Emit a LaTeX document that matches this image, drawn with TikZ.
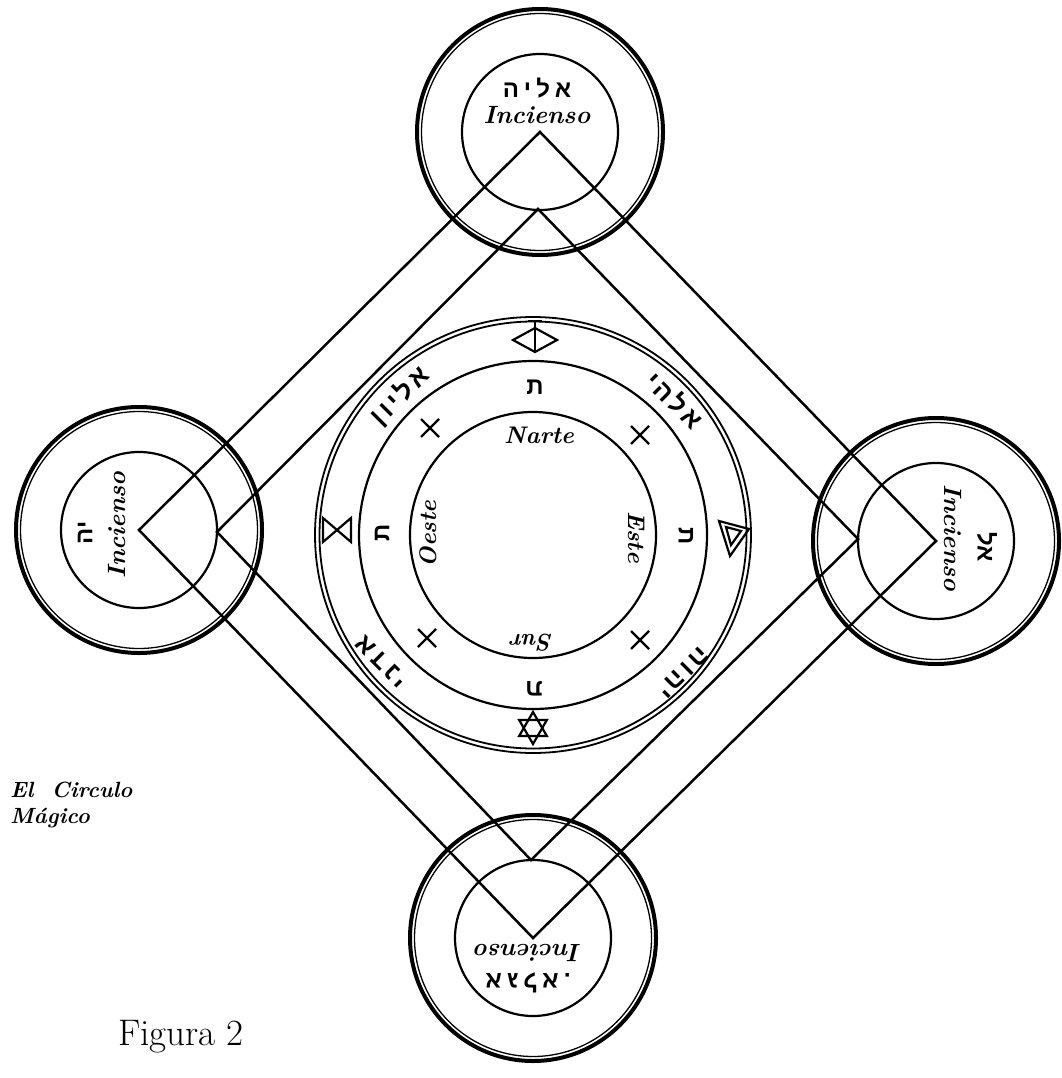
\documentclass[tikz,border=0pt]{standalone}
\usepackage{fontspec}
\newfontfamily\hebfont[Script=Hebrew]{Liberation Sans}
\newfontfamily\hebwide[Script=Hebrew,LetterSpace=22]{Liberation Sans}
\newfontfamily\hebmid[Script=Hebrew,LetterSpace=14]{Liberation Sans}
\TeXXeTstate=1
\newcommand\hebw[1]{{\hebfont\beginR #1\endR}}
\newcommand\hebsp[1]{{\hebwide\beginR #1\endR}}
\newcommand\hebmd[1]{{\hebmid\beginR #1\endR}}
\tikzset{
  ring/.style={line width=4pt},
  thinring/.style={line width=1.3pt},
  circ/.style={line width=2.2pt},
  diag/.style={line width=2.5pt},
  sym/.style={line width=2.2pt, line join=miter},
  inc/.style={font=\fontsize{25}{25}\selectfont\bfseries\itshape, inner sep=0pt},
  card/.style={font=\fontsize{24}{24}\selectfont\bfseries\itshape, inner sep=0pt},
  heb/.style={font=\fontsize{24}{24}\selectfont\bfseries, inner sep=0pt},
  hebbig/.style={font=\fontsize{26}{26}\selectfont\bfseries, inner sep=0pt},
  lab/.style={font=\fontsize{22}{27}\selectfont\bfseries\itshape, inner sep=0pt, anchor=west},
}
\begin{document}
\begin{tikzpicture}[x=1pt,y=1pt]
\useasboundingbox (0,0) rectangle (1061,-1078);
\fill[white] (0,0) rectangle (1061,-1078);
% centres
\coordinate (C) at (533,-535);
\coordinate (T) at (540,-132);
\coordinate (L) at (139,-530);
\coordinate (R) at (936,-541);
\coordinate (B) at (533,-938);
\coordinate (T2) at (538,-209);
\coordinate (L2) at (217,-532);
\coordinate (R2) at (858,-539);
\coordinate (B2) at (531,-860);
% diamonds
\draw[diag] (T) -- (R) -- (B) -- (L) -- cycle;
\draw[diag] (T2) -- (R2) -- (B2) -- (L2) -- cycle;
% incense circles
\foreach \p in {T,L,R,B}{
  \draw[ring] (\p) circle (123);
  \draw[thinring] (\p) circle (118.5);
  \draw[circ] (\p) circle (78);
}
% central circle
\draw[line width=1.8pt] (C) circle (218);
\draw[line width=1.8pt] (C) circle (213.5);
\draw[circ] (C) circle (174);
\draw[circ] (C) circle (123);
% incense labels
\node[heb] (tH) at (537,-88) {\hebsp{אליה}};
\node[inc] (tI) at (537,-115) {Incienso};
\node[heb,rotate=90] (lH) at (85,-533) {\hebw{יה}};
\node[inc,rotate=90] (lI) at (117,-525) {Incienso};
\node[heb,rotate=-90] (rH) at (987,-547) {\hebw{אל}};
\node[inc,rotate=-90] (rI) at (953,-538) {Incienso};
\node[heb,rotate=180] (bH) at (528,-983) {\hebsp{אגלא.}};
\node[inc,rotate=180] (bI) at (528,-953) {Incienso};
% cardinal words
\node[card] (n) at (539,-435) {Narte};
\node[card,rotate=-90] (e) at (637,-537) {Este};
\node[card,rotate=90] (o) at (428,-534) {Oeste};
\node[card,rotate=180] (s) at (532,-643) {Sur};
% tav letters
\node[heb] (t1) at (535,-387) {\hebw{ת}};
\node[heb,rotate=90] (t2) at (382,-533) {\hebw{ת}};
\node[heb,rotate=-90] (t3) at (686,-536) {\hebw{ת}};
\node[heb,rotate=180] (t4) at (534,-689) {\hebw{ת}};
% crosses
\foreach \x/\y in {430/-428, 640/-435, 427/-638, 640/-640}{
  \draw[sym] (\x-9,\y-9) -- (\x+9,\y+9) (\x-9,\y+9) -- (\x+9,\y-9);
}
% names in outer band
\node[hebbig,rotate=45] (n1) at (400,-396) {\hebmd{אליון}};
\node[hebbig,rotate=-45] (n2) at (675,-400) {\hebmd{אלהי}};
\node[hebbig,rotate=135] (n3) at (382,-662) {\hebmd{אדני}};
\node[hebbig,rotate=-135] (n4) at (683,-673) {\hebmd{יהוה}};
% symbols
\draw[sym] (513,-340) -- (535,-328) -- (557,-340) -- (535,-352) -- cycle;
\draw[sym] (528,-321) -- (542,-321) (535,-321) -- (535,-352);
\draw[sym] (323,-518) -- (323,-542) -- (351,-518) -- (351,-542) -- cycle;
\draw[sym] (719,-521) -- (749,-529) -- (730,-556) -- cycle;
\draw[sym] (726,-527) -- (741,-531) -- (731,-545) -- cycle;
\draw[sym] (533,-728) +(90:16) -- +(210:16) -- +(330:16) -- cycle;
\draw[sym] (533,-728) +(270:16) -- +(30:16) -- +(150:16) -- cycle;
% captions
\node[lab] (ec) at (10,-790) {El\ \ Circulo};
\node[lab] (mg) at (10,-818) {Mágico};
\node[font=\fontsize{37}{37}\selectfont, inner sep=0pt] (fig) at (181,-1037) {Figura\ 2};
\end{tikzpicture}
\end{document}
